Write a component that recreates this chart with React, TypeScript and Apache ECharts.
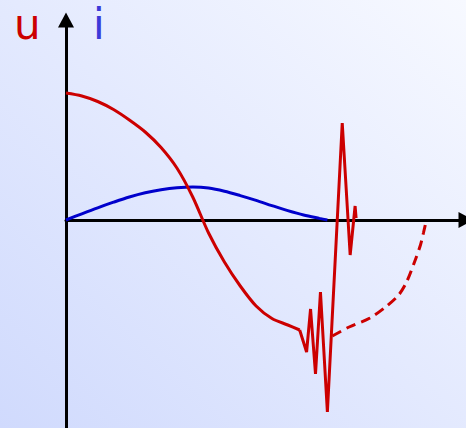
import React, { useEffect, useRef } from "react";
import * as echarts from "echarts";

// Voltage u over time (solid part, smooth decay)
const uSmooth: [number, number][] = [
  [0, 63.5], [8, 62], [16, 59.25], [24, 55.25], [32, 50], [40, 44],
  [48, 36.25], [56, 26], [64, 11.5], [72, -6.5], [80, -21], [88, -33],
  [96, -43], [104, -49.25], [112, -52.5], [118, -55],
];

// Voltage u: oscillating transient
const uSpikes: [number, number][] = [
  [118, -55], [121.5, -66], [123.5, -44.5], [126, -77], [128.5, -36],
  [132, -96], [139.5, 48.5], [143.5, -17.5], [146, 7], [146.5, 1],
];

// Voltage u: dashed continuation
const uDashed: [number, number][] = [
  [134.5, -58], [143, -53.5], [153.5, -49], [162, -43], [168, -37.5],
  [172, -31], [176, -21], [179, -12.5], [180.5, -6.5], [182, 0],
];

// Current i
const iCurve: [number, number][] = [
  [0, 0], [8, 3.1], [16, 6.1], [24, 8.9], [32, 11.5], [40, 13.6],
  [48, 15.1], [56, 16.1], [64, 16.5], [72, 16], [80, 14.4], [88, 12.2],
  [96, 9.8], [104, 7.2], [112, 4.7], [120, 2.5], [128, 0.8], [132, 0],
];

const RED = "#cc0000";
const BLUE = "#0000cc";

export default function App() {
  const ref = useRef<HTMLDivElement>(null);

  useEffect(() => {
    if (!ref.current) return;
    const chart = echarts.init(ref.current, undefined, { renderer: "svg" });
    const axisLine = {
      show: true,
      onZero: true,
      symbol: ["none", "triangle"],
      symbolSize: [16, 15],
      lineStyle: { color: "#000", width: 3 },
    };
    chart.setOption({
      animation: false,
      backgroundColor: "transparent",
      grid: { left: 66, right: -4, top: 20, bottom: 0 },
      xAxis: {
        type: "value",
        min: 0,
        max: 202,
        axisLine,
        axisTick: { show: false },
        axisLabel: { show: false },
        splitLine: { show: false },
      },
      yAxis: {
        type: "value",
        min: -104,
        max: 100,
        axisLine,
        axisTick: { show: false },
        axisLabel: { show: false },
        splitLine: { show: false },
      },
      graphic: [
        {
          type: "text",
          left: 14,
          top: 3,
          style: {
            text: "u",
            fill: RED,
            font: "42px 'DejaVu Sans'",
          },
        },
        {
          type: "text",
          left: 93,
          top: 3,
          style: {
            text: "i",
            fill: "#3a3ad8",
            font: "42px 'DejaVu Sans'",
          },
        },
      ],
      series: [
        {
          type: "line",
          data: iCurve,
          smooth: 0.3,
          showSymbol: false,
          lineStyle: { color: BLUE, width: 3 },
        },
        {
          type: "line",
          data: uSmooth,
          smooth: 0.3,
          showSymbol: false,
          lineStyle: { color: RED, width: 3 },
        },
        {
          type: "line",
          data: uSpikes,
          showSymbol: false,
          lineStyle: { color: RED, width: 3, join: "bevel" },
        },
        {
          type: "line",
          data: uDashed,
          smooth: 0.3,
          showSymbol: false,
          lineStyle: { color: RED, width: 3, type: [10, 6] },
        },
      ],
    });
    return () => chart.dispose();
  }, []);

  return (
    <div
      ref={ref}
      style={{
        position: "fixed",
        left: 0,
        top: 0,
        width: 466,
        height: 428,
        background: "linear-gradient(to top right, #d0dafd, #f7f9ff)",
      }}
    />
  );
}
